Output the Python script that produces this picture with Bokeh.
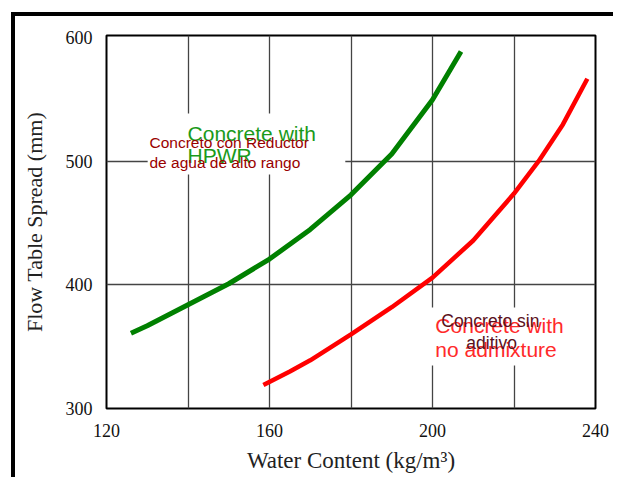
from bokeh.plotting import figure
from bokeh.models import BoxAnnotation, Label, FixedTicker
from bokeh.embed import file_html
from bokeh.resources import INLINE

# ---- data ----
hpwr_water = [126, 130, 140, 150, 160, 170, 180, 190, 200, 207]
hpwr_spread = [361, 367, 384, 401, 421, 445, 473, 506, 550, 589]

plain_water = [158.5, 165, 170, 180, 190, 200, 210, 220, 226, 232, 238]
plain_spread = [319, 330, 339, 360, 382, 406, 436, 474, 500, 530, 567]

x_tick_values = [120, 160, 200, 240]
x_grid_values = [140, 160, 180, 200, 220]
y_tick_values = [300, 400, 500, 600]
y_grid_values = [400, 500]

SERIF = "Liberation Serif"
SANS = "Liberation Sans"

# the scanned figure has a heavy frame along its top and left edges;
# it is drawn as a CSS border around the plot canvas
OFF_X, OFF_Y = 15, 16

p = figure(width=617 - OFF_X, height=481 - OFF_Y, x_range=(120, 240), y_range=(300, 602),
           output_backend="svg", toolbar_location=None,
           min_border_left=106 - OFF_X, min_border_right=22,
           min_border_top=35 - OFF_Y, min_border_bottom=73)
p.styles = {"border-top": "4px solid black", "border-left": "4px solid black",
            "margin-top": "12px", "margin-left": "11px"}

p.background_fill_color = "white"
p.border_fill_color = "white"
p.outline_line_color = "black"
p.outline_line_width = 2

# axes
for ax in (p.xaxis[0], p.yaxis[0]):
    ax.axis_line_color = None
    ax.major_tick_line_color = None
    ax.minor_tick_line_color = None
    ax.major_tick_out = 0
    ax.major_tick_in = 0
    ax.major_label_text_font = SERIF
    ax.major_label_text_font_size = "18px"
    ax.major_label_text_color = "#111111"
    ax.axis_label_text_font = SERIF
    ax.axis_label_text_font_style = "normal"
    ax.axis_label_text_color = "#222222"

p.xaxis.ticker = FixedTicker(ticks=x_tick_values)
p.yaxis.ticker = FixedTicker(ticks=y_tick_values)
p.xaxis.major_label_standoff = 15
p.yaxis.major_label_standoff = 14
p.xaxis.axis_label = "Water Content (kg/m³)"
p.yaxis.axis_label = "Flow Table Spread (mm)"
p.xaxis.axis_label_text_font_size = "23px"
p.yaxis.axis_label_text_font_size = "22px"
p.xaxis.axis_label_standoff = 8
p.yaxis.axis_label_standoff = 16

p.xgrid.ticker = FixedTicker(ticks=x_grid_values)
p.ygrid.ticker = FixedTicker(ticks=y_grid_values)
for g in (p.xgrid[0], p.ygrid[0]):
    g.grid_line_color = "#444444"
    g.grid_line_width = 1.3

# curves
p.line(hpwr_water, hpwr_spread, line_color="#008000", line_width=5)
p.line(plain_water, plain_spread, line_color="#ff0000", line_width=4.5)

# white boxes behind the annotations
p.add_layout(BoxAnnotation(left=130.1, right=178.6, top=538.8, bottom=489.5,
                           fill_color="white", fill_alpha=1, line_alpha=0))
p.add_layout(BoxAnnotation(left=199.5, right=232.9, top=381.8, bottom=334.8,
                           fill_color="white", fill_alpha=1, line_alpha=0))

def lab(x, y, text, color, size, font=SANS, align="left"):
    p.add_layout(Label(x=x, y=y, text=text, text_color=color, text_font=font,
                       text_font_size=size, text_align=align, text_baseline="middle"))

lab(139.9, 522.6, "Concrete with", "#1a9a1a", "21px")
lab(139.9, 504.8, "HPWR", "#1a9a1a", "21px")
lab(130.55, 515.4, "Concreto con Reductor", "#990000", "15.5px")
lab(130.55, 499.2, "de agua de alto rango", "#990000", "15.5px")

lab(200.7, 367.2, "Concrete with", "#ff2a2a", "21px")
lab(200.7, 347.8, "no admixture", "#ff2a2a", "21px")
lab(214.2, 371.2, "Concreto sin", "#5a1020", "17.5px", align="center")
lab(214.5, 353.4, "aditivo", "#5a1020", "17.5px", align="center")

open("out.html", "w").write(file_html(p, INLINE))
